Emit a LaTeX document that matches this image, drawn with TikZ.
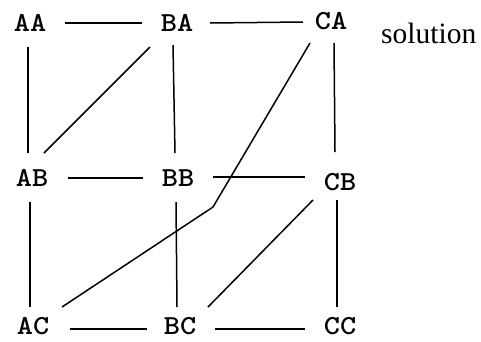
\documentclass[tikz,border=0pt]{standalone}
\usepackage{fontspec}
\setmainfont{Liberation Serif}
\usetikzlibrary{calc}
\newcommand{\widelab}[1]{\scalebox{1.12}[1]{#1}}
\begin{document}
\begin{tikzpicture}[x=1pt,y=-1pt,
  lab/.style={inner sep=0pt,font=\ttfamily\bfseries\fontsize{27.5}{27.5}\selectfont},
  edge/.style={line width=1.5pt}]
\useasboundingbox (0,0) rectangle (481,341);
\node[lab] (AA) at (30,23) {\widelab{AA}};
\node[lab] (BA) at (177,23) {\widelab{BA}};
\node[lab] (CA) at (331,21) {\widelab{CA}};
\node[lab] (AB) at (32,178) {\widelab{AB}};
\node[lab] (BB) at (178,178) {\widelab{BB}};
\node[lab] (CB) at (340,182) {\widelab{CB}};
\node[lab] (AC) at (33,326) {\widelab{AC}};
\node[lab] (BC) at (180,326) {\widelab{BC}};
\node[lab] (CC) at (340,326) {\widelab{CC}};
\node[anchor=base west,inner sep=0pt,font=\fontsize{29.5}{29.5}\selectfont] (sol) at (381,43) {solution};
% horizontal
\draw[edge] ($(AA)+(35,0)$) -- ($(BA)+(-35,0)$);
\draw[edge] ($(BA)+(33,0)$) -- ($(CA)+(-28,1)$);
\draw[edge] ($(AB)+(36,0)$) -- ($(BB)+(-35,0)$);
\draw[edge] ($(BB)+(35,-1)$) -- ($(CB)+(-35,-5)$);
\draw[edge] ($(AC)+(37,3)$) -- ($(BC)+(-33,3)$);
\draw[edge] ($(BC)+(35,3)$) -- ($(CC)+(-35,3)$);
% vertical
\draw[edge] ($(AA)+(-2,24)$) -- ($(AB)+(-4,-25)$);
\draw[edge] ($(BA)+(-4,22)$) -- ($(BB)+(-3,-25)$);
\draw[edge] ($(CA)+(3,22)$) -- ($(CB)+(-5,-30)$);
\draw[edge] ($(AB)+(-2,24)$) -- ($(AC)+(-3,-19)$);
\draw[edge] ($(BB)+(-2,24)$) -- ($(BC)+(-3,-19)$);
\draw[edge] ($(CB)+(-3,18)$) -- ($(CC)+(-3,-19)$);
% diagonals
\draw[edge] ($(BA)+(-27,24)$) -- ($(AB)+(12,-25)$);
\draw[edge] ($(CA)+(-21,22)$) -- (213,207) -- ($(AC)+(29,-19)$);
\draw[edge] ($(CB)+(-27,18)$) -- ($(BC)+(28,-19)$);
\end{tikzpicture}
\end{document}
